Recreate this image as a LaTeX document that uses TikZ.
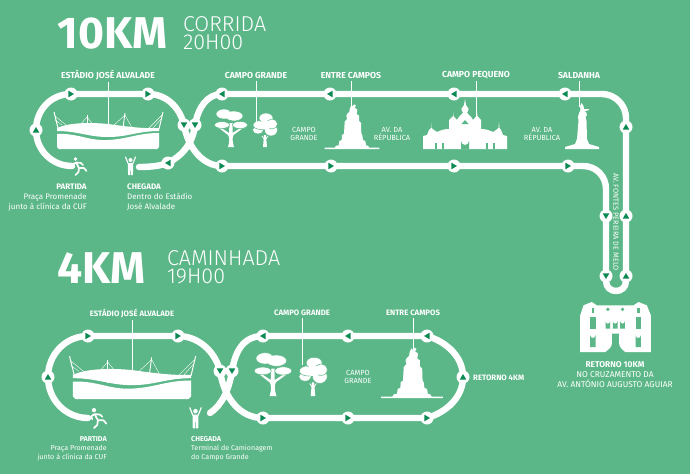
\documentclass[tikz,border=0pt]{standalone}
\usepackage{fontspec}
\setmainfont{Fira Sans}
\newfontfamily\lightfont{Fira Sans Light}
\usetikzlibrary{backgrounds}
\definecolor{bggreen}{RGB}{91,183,135}
\definecolor{mkgreen}{RGB}{12,138,84}

\tikzset{
  mk/.style={circle, fill=white, minimum size=13pt, inner sep=0pt, rotate=#1,
    path picture={\fill[mkgreen] (-2.6,-3.3) -- (3,0) -- (-2.6,3.3) -- cycle;}},
  track/.style={draw=white, line width=6.4pt, line cap=round},
  leader/.style={draw=white, line width=0.9pt},
  place/.style={text=white, font=\fontsize{8.7}{9}\selectfont\bfseries},
  placeb/.style={text=white, font=\fontsize{7.8}{9}\selectfont\bfseries},
  street/.style={text=white, align=center, font=\fontsize{7.4}{8}\selectfont},
  note/.style={text=white, font=\fontsize{8}{10}\selectfont},
  noteb/.style={text=white, font=\fontsize{7.1}{9}\selectfont},
  bignum/.style={text=white, anchor=west, font=\fontsize{44.5}{44}\selectfont\bfseries},
  bigtxt/.style={text=white, anchor=west, align=left, font=\fontsize{21.5}{18}\selectfont\lightfont},
  stadium/.pic={
    \fill[white] (-51,-15) .. controls (-30,-16) and (-20,-8) .. (0,-9) .. controls (20,-10) and (30,-16) .. (51,-16)
      -- (51,-2) -- (49,0) -- (-49,0) -- (-51,-2) -- cycle;
    \fill[white] (-51,-21) .. controls (-40,-26) and (-20,-27) .. (0,-25) .. controls (15,-23) and (35,-20) .. (51,-21)
      -- (51,-18) .. controls (30,-18) and (20,-12) .. (0,-12) .. controls (-20,-12) and (-30,-18) .. (-51,-18) -- cycle;
    \draw[white, line width=1pt] (-54,-37) -- (-50,-21);
    \draw[white, line width=1pt] (55,-37) -- (51,-20);
    \draw[white, line width=0.9pt] (-21,-34) -- (-21,-14);
    \draw[white, line width=0.9pt] (17,-36) -- (15,-21);
    \draw[white, line width=0.4pt] (-53,-33) -- (-42,-24) (-53,-29) -- (-46,-24) (-21,-32) -- (-28,-24)
      (-21,-32) -- (-13,-22) (-21,-26) -- (-10,-15) (17,-34) -- (5,-23) (17,-34) -- (24,-21) (54,-34) -- (41,-21) (53,-30) -- (45,-21);
  },
  broadtree/.pic={
    \fill[white] (-3,0) .. controls (-1,-6) and (-1.5,-10) .. (-3,-12) -- (-12,-19) -- (-11,-20) -- (-2,-14) -- (-1.5,-24)
      -- (1.5,-24) -- (1.5,-14) -- (11,-20) -- (12,-19) -- (2.5,-12) .. controls (1.5,-10) and (1,-6) .. (3,0) -- cycle;
    \fill[white, draw=bggreen, line width=0.5pt] (-7,-33) ellipse (8 and 5);
    \fill[white, draw=bggreen, line width=0.5pt] (3,-31) ellipse (9 and 5);
    \fill[white] (-2.5,-32) ellipse (10 and 3.5);
    \fill[white, draw=bggreen, line width=0.5pt] (-9,-22) ellipse (7.5 and 3.4);
    \fill[white, draw=bggreen, line width=0.5pt] (9,-22) ellipse (7.5 and 3.6);
  },
  roundtree/.pic={
    \fill[white] (-2,0) -- (-1,-12) -- (1,-12) -- (2,0) -- cycle;
    \draw[white, line width=0.8pt] (0,-7) -- (-3,-11) (0,-7) -- (3,-11);
    \fill[white, draw=bggreen, line width=0.5pt] (-7,-17) ellipse (5.5 and 4);
    \fill[white, draw=bggreen, line width=0.5pt] (6,-17) ellipse (6.5 and 6);
    \fill[white, draw=bggreen, line width=0.5pt] (-4,-22) ellipse (8 and 4.5);
    \fill[white, draw=bggreen, line width=0.5pt] (1,-29) ellipse (7 and 5);
    \fill[white, draw=bggreen, line width=0.5pt] (7,-23) ellipse (5.5 and 5);
    \fill[white] (0,-22) ellipse (6 and 4.5);
  },
  monument/.pic={
    \fill[white, scale=1/3] (-82,0) -- (82,0) -- (82,-4) -- (52,-4) -- (48,-10) -- (42,-11) -- (40,-24) -- (33,-27) -- (31,-42)
      -- (28,-46) -- (27,-78) -- (21,-84) -- (21,-100) -- (14,-105) -- (16,-118) -- (8,-124) -- (12,-130) -- (6,-134) -- (2,-128)
      -- (-2,-132) -- (-6,-122) -- (-8,-112) -- (-14,-106) -- (-17,-100) -- (-15,-90) -- (-22,-82) -- (-24,-46) -- (-30,-42)
      -- (-31,-27) -- (-38,-24) -- (-40,-11) -- (-48,-10) -- (-52,-4) -- (-82,-4) -- cycle;
  },
  palace/.pic={
    \begin{scope}[scale=1/3]
    \fill[white] (-106,0) -- (-106,-110) -- (-96,-140) -- (-71,-150) -- (-56,-140) -- (54,-140) -- (69,-150) -- (94,-140)
      -- (106,-110) -- (106,0) -- (29,0) .. controls (20,-8) and (11,-15) .. (11,-25) -- (11,-55) -- (-11,-55) -- (-11,-25)
      .. controls (-11,-15) and (-20,-8) .. (-31,0) -- cycle;
    \foreach \wx in {-68,68} {
      \fill[bggreen] (\wx-8,-70) rectangle (\wx+8,-105);
      \fill[bggreen] (\wx-8,-15) -- (\wx-8,-50) arc (180:0:8) -- (\wx+8,-15) -- cycle;
      \fill[bggreen] (\wx-4,-118) rectangle (\wx+4,-132);
    }
    \foreach \wx in {-23,-1,21} {
      \fill[bggreen] (\wx-7,-70) -- (\wx-7,-92) arc (180:0:7) -- (\wx+7,-70) -- cycle;
    }
    \fill[bggreen] (-23,-128) circle (5.5);
    \fill[bggreen] (21,-128) circle (5.5);
    \end{scope}
  },
  bullring/.pic={
    \fill[white] (-42,0) -- (-42,-13) -- (-38,-14) -- (-36,-19) -- (-34,-21) -- (-34,-27) -- (-33.5,-21) -- (-31,-19) -- (-28,-17)
      .. controls (-24,-19) and (-20,-20) .. (-16,-20) -- (-16,-29) -- (-12,-33) -- (-12,-37) -- (-11.5,-33) -- (-8,-29)
      .. controls (-6,-33) and (-3,-35) .. (-2,-36) -- (-3.7,-40) -- (-1,-44) -- (0,-50) -- (1,-44) -- (3.7,-40) -- (2,-36)
      .. controls (3,-35) and (6,-33) .. (8,-29) -- (11.5,-33) -- (12,-37) -- (12.5,-33) -- (16,-29) -- (16,-20)
      .. controls (20,-20) and (24,-19) .. (28,-17) -- (31,-19) -- (33.5,-21) -- (34,-27) -- (34.5,-21) -- (36,-19) -- (38,-14)
      -- (42,-13) -- (42,0) -- cycle;
    \fill[bggreen] (-4,0) -- (-4,-8) arc (180:0:4) -- (4,0) -- cycle;
    \fill[bggreen] (-3.5,-25) -- (0,-29) -- (3.5,-25) -- cycle;
    \fill[bggreen] (-30,0) rectangle (-28,-6);
    \fill[bggreen] (-23,0) rectangle (-21,-6);
    \fill[bggreen] (28,0) rectangle (30,-6);
    \fill[bggreen] (21,0) rectangle (23,-6);
  },
  statue/.pic={
    \fill[white] (-17,0) -- (17,0) -- (17,-2) -- (7,-5) -- (5,-10) -- (4.5,-28) -- (3.5,-32) -- (5,-34) -- (4,-37) -- (2,-37.5)
      -- (7,-39) -- (7,-40) -- (2,-40) -- (1.5,-43) -- (-0.5,-46) -- (-2,-43) -- (-1.5,-39) -- (-3,-36) -- (-4,-32) -- (-3.5,-28)
      -- (-5,-10) -- (-7,-5) -- (-17,-2) -- cycle;
  },
  runner/.pic={
    \fill[white] (-4.5,-7) circle (1.9);
    \draw[white, line width=1.7pt, line cap=round, line join=round]
      (-4,-3.5) -- (-1,2) -- (4,2) -- (6.5,5) (-1,2) -- (-1.5,6) -- (-4.5,9) (-4,-3.5) -- (-7,-1.5) -- (-6,1) (-3.5,-3.5) -- (1,-3) -- (3,-1);
  },
  winner/.pic={
    \fill[white] (0,-6) circle (2);
    \fill[white] (-2.6,-3) -- (2.6,-3) -- (2.6,2) -- (2.4,9) -- (0.4,9) -- (0.2,3) -- (-0.2,3) -- (-0.4,9) -- (-2.4,9) -- (-2.6,2) -- cycle;
    \draw[white, line width=1.2pt, line cap=round] (-5,-9) -- (-2.4,-2.5) (5,-9) -- (2.4,-2.5);
  },
}

\begin{document}
\begin{tikzpicture}[x=1pt, y=-1pt]
\useasboundingbox (0,0) rectangle (690,474);

% markers of the 10 km track
\foreach \n/\x/\y/\dir in {a1/36/130/90, a2/71/94/0, a3/148/94/0, a4/184/125/270, a5/222/166/0, a6/331/166/0,
    a7/454/166/0, a8/568/166/0, a9/606/216/270, a10/606/276/270, a11/626/276/90, a12/626/216/90, a13/626/127/90,
    a14/565/94/180, a15/454/94/180, a16/330/94/180, a17/222/94/180, a18/195/125/270, a19/168/163/180}
  \node[mk=\dir] (\n) at (\x,\y) {};
% markers of the 4 km track
\foreach \n/\x/\y/\dir in {b1/48/377/90, b2/88/336/0, b3/178/336/0, b4/220/371/270, b5/263/418/0, b6/348/418/0,
    b7/427/418/0, b8/463/377/90, b9/427/336/180, b10/348/336/180, b11/263/336/180, b12/232/371/270}
  \node[mk=\dir] (\n) at (\x,\y) {};

\coordinate (startA) at (72,166);
\coordinate (endA) at (139,167);
\coordinate (startB) at (88,418);
\coordinate (endB) at (210,413);
\coordinate (turnA) at (583,166);
\coordinate (turnB) at (606,189);
\coordinate (turnC) at (606,281);
\coordinate (turnD) at (626,281);
\coordinate (turnE) at (626,118);
\coordinate (turnF) at (602,94);

\begin{scope}[on background layer]
  \fill[bggreen] (0,0) rectangle (690,474);
  \draw[track] (startA) .. controls (52,166) and (36,150) .. (a1.center) .. controls (36,110) and (51,94) .. (a2.center)
    -- (a3.center) .. controls (167,94) and (180,108) .. (a4.center) .. controls (188,148) and (203,166) .. (a5.center)
    -- (a6.center) -- (a7.center) -- (a8.center) -- (turnA) .. controls (596,166) and (606,176) .. (turnB)
    -- (a9.center) -- (a10.center) -- (turnC) .. controls (606,294.3) and (626,294.3) .. (turnD)
    -- (a11.center) -- (a12.center) -- (a13.center) -- (turnE) .. controls (626,105) and (615,94) .. (turnF)
    -- (a14.center) -- (a15.center) -- (a16.center) -- (a17.center) .. controls (207,94) and (198,108) .. (a18.center)
    .. controls (193,143) and (183,155) .. (a19.center) .. controls (160,166) and (150,167) .. (endA);
  \draw[track] (startB) .. controls (66,418) and (48,400) .. (b1.center) .. controls (48,354) and (66,336) .. (b2.center)
    -- (b3.center) .. controls (198,336) and (215,351) .. (b4.center) .. controls (224,398) and (240,418) .. (b5.center)
    -- (b6.center) -- (b7.center) .. controls (447,412) and (463,397) .. (b8.center)
    .. controls (463,357) and (447,342) .. (b9.center) -- (b10.center) -- (b11.center)
    .. controls (243,336) and (235,352) .. (b12.center) .. controls (229,390) and (222,405) .. (endB);
\end{scope}

% titles
\node[bignum] (tenkm) at (54,33) {10KM};
\node[bigtxt] (tentxt) at (179.5,33) {CORRIDA\\20H00};
\node[bignum] (fourkm) at (54,268) {4KM};
\node[bigtxt] (fourtxt) at (163.5,267) {CAMINHADA\\19H00};

% 10 km pictures
\pic at (108,149) {stadium};
\pic at (231,147) {broadtree};
\pic at (265,147) {roundtree};
\pic at (352,149) {monument};
\pic at (465,149) {bullring};
\pic at (582,149) {statue};
\pic at (80,166) {runner};
\pic at (130.5,166) {winner};
\pic at (615.5,352) {palace};

% 4 km pictures
\pic[scale=1.157] at (132,399) {stadium};
\pic[scale=1.14] at (273,396) {broadtree};
\pic[scale=1.14] at (313,396) {roundtree};
\pic[scale=1.13] at (412,398) {monument};
\pic[scale=1.12] at (99,418) {runner};
\pic[scale=1.14] at (195.5,418) {winner};

% 10 km labels
\node[place] (lblstadium) at (108,75) {ESTÁDIO JOSÉ ALVALADE};
\node[place] (lblgrande) at (256,75) {CAMPO GRANDE};
\node[place] (lblentre) at (351,75) {ENTRE CAMPOS};
\node[place] (lblpequeno) at (476,75) {CAMPO PEQUENO};
\node[place] (lblsaldanha) at (579,75) {SALDANHA};
\coordinate (tipstadium) at (108,125);
\coordinate (tipgrande) at (256,123);
\coordinate (tipentre) at (351,107);
\coordinate (tippequeno) at (476,123);
\coordinate (tipsaldanha) at (579,107);
\draw[leader] (lblstadium.south) ++(0,-1) -- (tipstadium);
\draw[leader] (lblgrande.south) ++(0,-1) -- (tipgrande);
\draw[leader] (lblentre.south) ++(0,-1) -- (tipentre);
\draw[leader] (lblpequeno.south) ++(0,-1) -- (tippequeno);
\draw[leader] (lblsaldanha.south) ++(0,-1) -- (tipsaldanha);
\node[street] (strgrande) at (304,134) {CAMPO\\GRANDE};
\node[street] (strrepa) at (392,134) {AV. DA\\RÉPUBLICA};
\node[street] (strrepb) at (542,134) {AV. DA\\RÉPUBLICA};
\node[street, rotate=-90] (strfontes) at (616,222) {AV. FONTES PEREIRA DE MELO};
\node[note, anchor=north east, align=right, inner sep=0pt] (partidaA) at (87,183.5) {\textbf{PARTIDA}\\Praça Promenade\\junto à clínica da CUF};
\node[note, anchor=north west, align=left, inner sep=0pt] (chegadaA) at (127,183.5) {\textbf{CHEGADA}\\Dentro do Estádio\\José Alvalade};
\node[note, font=\fontsize{8.4}{10}\selectfont, align=center, anchor=north, inner sep=0pt] (retorno) at (615,361.5) {\textbf{RETORNO 10KM}\\NO CRUZAMENTO DA\\AV. ANTÓNIO AUGUSTO AGUIAR};

% 4 km labels
\node[placeb] (lblstadiumb) at (132,313) {ESTÁDIO JOSÉ ALVALADE};
\node[placeb] (lblgrandeb) at (302,313) {CAMPO GRANDE};
\node[placeb] (lblentreb) at (413,313) {ENTRE CAMPOS};
\coordinate (tipstadiumb) at (132,372);
\coordinate (tipgrandeb) at (302,365);
\coordinate (tipentreb) at (413,350);
\draw[leader] (lblstadiumb.south) ++(0,-1) -- (tipstadiumb);
\draw[leader] (lblgrandeb.south) ++(0,-1) -- (tipgrandeb);
\draw[leader] (lblentreb.south) ++(0,-1) -- (tipentreb);
\node[street] (strgrandeb) at (358,377) {CAMPO\\GRANDE};
\node[placeb, anchor=west, inner sep=0pt] (lblretorno) at (473,378) {RETORNO 4KM};
\node[noteb, anchor=north east, align=right, inner sep=0pt] (partidaB) at (107,436.5) {\textbf{PARTIDA}\\Praça Promenade\\junto à clínica da CUF};
\node[noteb, anchor=north west, align=left, inner sep=0pt] (chegadaB) at (191,436.5) {\textbf{CHEGADA}\\Terminal de Camionagem\\do Campo Grande};
\end{tikzpicture}
\end{document}
